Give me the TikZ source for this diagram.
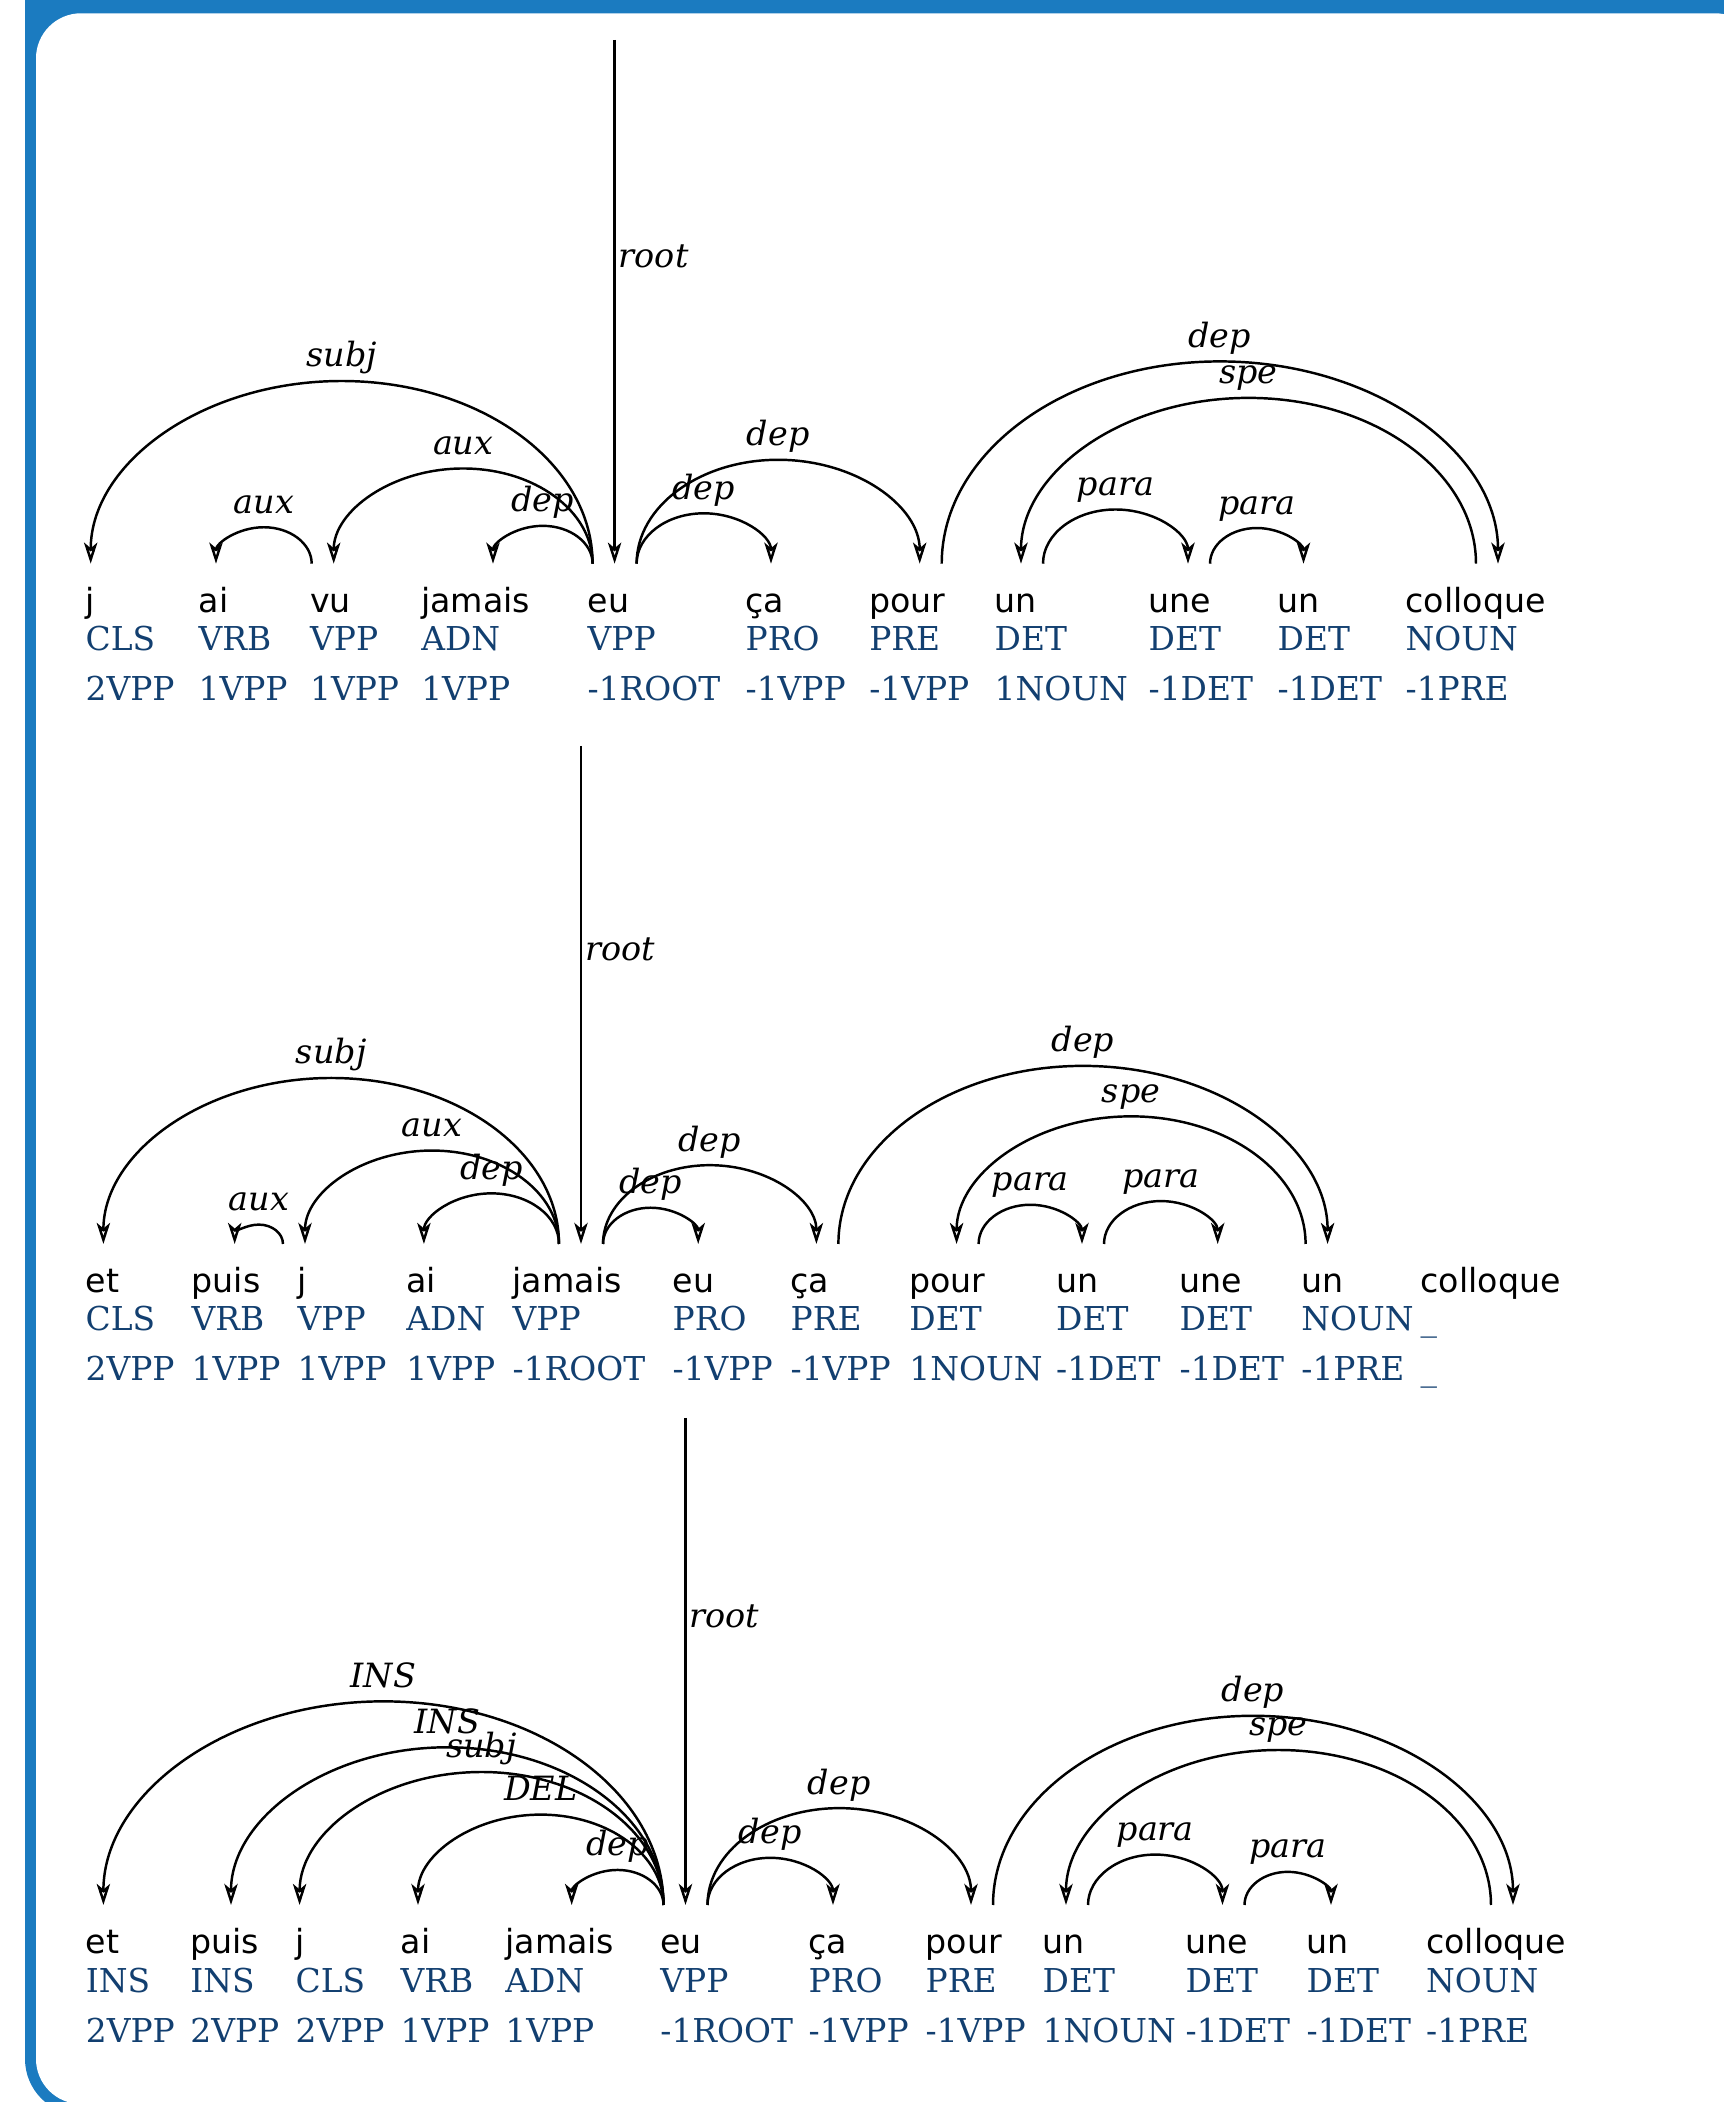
\documentclass[tikz,border=0pt]{standalone}
\usepackage{fontspec}
\usepackage{tikz}
\usetikzlibrary{arrows.meta,calc}
\newfontfamily\wordfam{DejaVu Sans}
\newfontfamily\tagfam{DejaVu Serif}
\definecolor{framecol}{HTML}{1B7BC0}
\definecolor{tagcol}{HTML}{123F70}
\tikzset{
	word/.style={anchor=base west, inner sep=0pt, font=\wordfam\fontsize{9.45}{11.4}\selectfont},
	tag/.style={anchor=base west, inner sep=0pt, text=tagcol, font=\tagfam\fontsize{9.35}{11.4}\selectfont},
	rel/.style={anchor=base, inner sep=0pt, font=\tagfam\itshape\fontsize{9.5}{11.4}\selectfont},
	deparrow/.style={line width=0.7pt, -{Stealth[open, length=6pt, width=3.8pt, inset=1.6pt]}}
}
% one word column: name, left x, anchor x, word, tag, head
\def\wordcol(#1:#2:#3)#4#5#6{\node[word] (#1w) at (#2,0) {#4};
	\node[tag] (#1t) at (#2,-38) {#5};
	\node[tag] (#1h) at (#2,-88) {#6};
	\coordinate (#1) at (#3,49);}
% half-ellipse from head to dependent
\def\deparc(#1)(#2)#3{\draw[deparrow] let \p1=(#1), \p2=(#2), \n1={sign(\x2-\x1)}, \n2={\x1+\n1*0.22cm}, \n3={abs(\x2-\n2)/2}, \n4={0.72*\n3+0.02cm} in
	(\n2,\y1) arc[start angle={90+90*\n1}, end angle={90-90*\n1}, x radius=\n3, y radius=\n4]
	node[rel] at ({(\n2+\x2)/2},{\y1+\n4+0.14cm}) {#3};}

\begin{document}
\begin{tikzpicture}[x=0.01cm, y=0.01cm]
	\useasboundingbox (0,0) rectangle (1724,2102);
	
	%%%%% FRAME %%%%%
	\fill[framecol, rounded corners=0.56cm] (25,-13) rectangle (1771,2202);
	\fill[white, rounded corners=0.45cm] (36,-2) rectangle (1760,2088.7);
	
	%%%%% FIRST TREE %%%%%
	\begin{scope}[shift={(0,1489.3)}]
		\wordcol(a1:85:90.7){j}{CLS}{2VPP}
		\wordcol(a2:198:216){ai}{VRB}{1VPP}
		\wordcol(a3:309.5:333.7){vu}{VPP}{1VPP}
		\wordcol(a4:420.6:493){jamais}{ADN}{1VPP}
		\wordcol(a5:587:614.6){eu}{VPP}{-1ROOT}
		\wordcol(a6:745:771){ça}{PRO}{-1VPP}
		\wordcol(a7:868.6:919.7){pour}{PRE}{-1VPP}
		\wordcol(a8:994:1021){un}{DET}{1NOUN}
		\wordcol(a9:1148:1188){une}{DET}{-1DET}
		\wordcol(a10:1277:1303.5){un}{DET}{-1DET}
		\wordcol(a11:1405:1498){colloque}{NOUN}{-1PRE}
		
		\coordinate (r1) at (614.6,572.7);
		\draw[deparrow] (r1) -- (a5) node[rel, pos=0.5, anchor=base west, xshift=0.03cm, yshift=0.34cm] {root};
		
		\deparc(a5)(a1){subj}
		\deparc(a5)(a3){aux}
		\deparc(a3)(a2){aux}
		\deparc(a5)(a4){dep}
		\deparc(a5)(a6){dep}
		\deparc(a5)(a7){dep}
		\deparc(a7)(a11){dep}
		\deparc(a11)(a8){spe}
		\deparc(a8)(a9){para}
		\deparc(a9)(a10){para}
	\end{scope}
	
	%%%%% SECOND TREE %%%%%
	\begin{scope}[shift={(0,809)}]
		\wordcol(b1:85:103.4){et}{CLS}{2VPP}
		\wordcol(b2:191:234.7){puis}{VRB}{1VPP}
		\wordcol(b3:297:305){j}{VPP}{1VPP}
		\wordcol(b4:405.7:423.9){ai}{ADN}{1VPP}
		\wordcol(b5:512:581){jamais}{VPP}{-1ROOT}
		\wordcol(b6:672:698.2){eu}{PRO}{-1VPP}
		\wordcol(b7:790:816.4){ça}{PRE}{-1VPP}
		\wordcol(b8:908.7:956.6){pour}{DET}{1NOUN}
		\wordcol(b9:1055.5:1082){un}{DET}{-1DET}
		\wordcol(b10:1179:1217.7){une}{DET}{-1DET}
		\wordcol(b11:1300.7:1327.6){un}{NOUN}{-1PRE}
		\wordcol(b12:1420:1513){colloque}{\_}{\_}
		
		\coordinate (r2) at (581,547);
		\draw[deparrow] (r2) -- (b5) node[rel, pos=0.5, anchor=base west, xshift=0.03cm, yshift=0.34cm] {root};
		
		\deparc(b5)(b1){subj}
		\deparc(b5)(b3){aux}
		\deparc(b3)(b2){aux}
		\deparc(b5)(b4){dep}
		\deparc(b5)(b6){dep}
		\deparc(b5)(b7){dep}
		\deparc(b7)(b11){dep}
		\deparc(b11)(b8){spe}
		\deparc(b8)(b9){para}
		\deparc(b9)(b10){para}
	\end{scope}
	
	%%%%% THIRD TREE %%%%%
	\begin{scope}[shift={(0,148)}]
		\wordcol(c1:85.2:103.4){et}{INS}{2VPP}
		\wordcol(c2:189.7:231){puis}{INS}{2VPP}
		\wordcol(c3:295:299.6){j}{CLS}{2VPP}
		\wordcol(c4:400:418){ai}{VRB}{1VPP}
		\wordcol(c5:504.7:571.7){jamais}{ADN}{1VPP}
		\wordcol(c6:659.7:685.5){eu}{VPP}{-1ROOT}
		\wordcol(c7:808:833){ça}{PRO}{-1VPP}
		\wordcol(c8:925:971){pour}{PRE}{-1VPP}
		\wordcol(c9:1042:1066){un}{DET}{1NOUN}
		\wordcol(c10:1185:1222.5){une}{DET}{-1DET}
		\wordcol(c11:1306:1331){un}{DET}{-1DET}
		\wordcol(c12:1425.5:1513){colloque}{NOUN}{-1PRE}
		
		\coordinate (r3) at (685.5,536);
		\draw[deparrow] (r3) -- (c6) node[rel, pos=0.5, anchor=base west, xshift=0.03cm, yshift=0.34cm] {root};
		
		\deparc(c6)(c1){INS}
		\deparc(c6)(c2){INS}
		\deparc(c6)(c3){subj}
		\deparc(c6)(c4){DEL}
		\deparc(c6)(c5){dep}
		\deparc(c6)(c7){dep}
		\deparc(c6)(c8){dep}
		\deparc(c8)(c12){dep}
		\deparc(c12)(c9){spe}
		\deparc(c9)(c10){para}
		\deparc(c10)(c11){para}
	\end{scope}
\end{tikzpicture}
\end{document}
